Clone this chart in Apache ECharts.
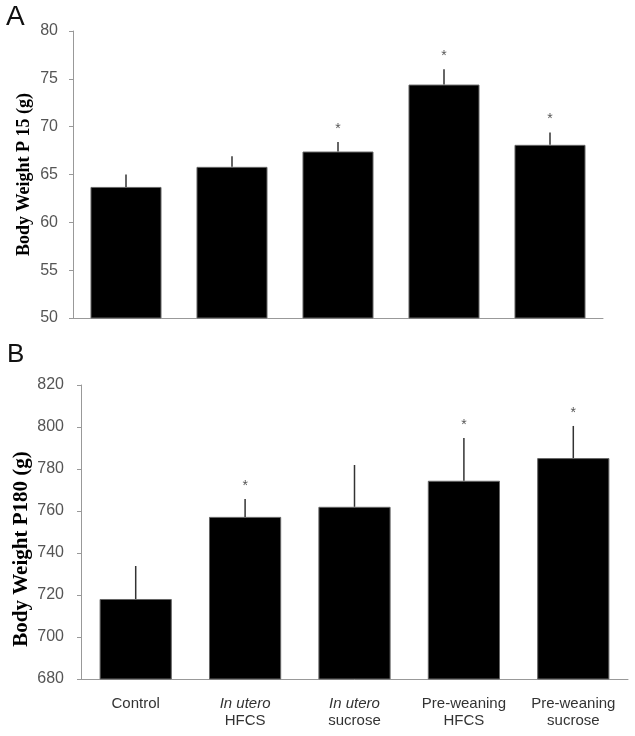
<!DOCTYPE html>
<html>
<head>
<meta charset="utf-8">
<script src="https://cdn.jsdelivr.net/npm/echarts@6/dist/echarts.min.js"></script>
<style>html,body{margin:0;padding:0;background:#fff;}#c{width:635px;height:736px;}</style>
</head>
<body>
<div id="c"></div>
<script>
var categories = ['Control', 'In utero\nHFCS', 'In utero\nsucrose', 'Pre-weaning\nHFCS', 'Pre-weaning\nsucrose'];
var p15Mean = [63.7, 65.8, 67.4, 74.4, 68.1];
var p15ErrTop = [65.0, 66.9, 68.4, 76.0, 69.4];
var p15Sig = [0, 0, 1, 1, 1];
var p180Mean = [718.1, 757.2, 762.0, 774.4, 785.2];
var p180ErrTop = [733.8, 765.7, 781.9, 794.8, 800.5];
var p180Sig = [0, 1, 0, 1, 1];
var p15Ticks = [50, 80, 5];
var p180Ticks = [680, 820, 20];

var chart = echarts.init(document.getElementById('c'), null, {renderer: 'canvas'});

function errData(mean, top, sig) {
  return mean.map(function (m, i) { return [i, m, top[i], sig[i]]; });
}
function renderErr(params, api) {
  var i = api.value(0);
  var p0 = api.coord([i, api.value(1)]);
  var p1 = api.coord([i, api.value(2)]);
  var children = [{
    type: 'line',
    shape: {x1: p0[0], y1: p0[1], x2: p1[0], y2: p1[1]},
    style: {stroke: '#333', lineWidth: 1.5}
  }];
  if (api.value(3)) {
    children.push({
      type: 'text',
      style: {x: p1[0], y: p1[1] - 13, text: '*', align: 'center', verticalAlign: 'middle',
        font: '14px "Liberation Sans", Arial', fill: '#555'}
    });
  }
  return {type: 'group', children: children};
}
function xLabel(v) {
  var parts = v.split('\n');
  if (parts.length === 1) return '{n|' + v + '}';
  if (parts[0] === 'In utero') return '{i|' + parts[0] + '}\n{n|' + parts[1] + '}';
  return '{n|' + parts[0] + '}\n{n|' + parts[1] + '}';
}
var axisLineStyle = {color: '#999', width: 1};

chart.setOption({
  animation: false,
  backgroundColor: '#fff',
  graphic: [
    {type: 'text', left: 6, top: 3, style: {text: 'A', font: '28px "Liberation Sans", Arial', fill: '#111'}},
    {type: 'text', left: 7, top: 342, style: {text: 'B', font: '26px "Liberation Sans", Arial', fill: '#111'}}
  ],
  grid: [
    {left: 73, top: 31, width: 530, height: 287},
    {left: 81, top: 385, width: 547, height: 294}
  ],
  xAxis: [
    {type: 'category', gridIndex: 0, data: categories,
     axisLine: {lineStyle: axisLineStyle}, axisTick: {length: 4, lineStyle: axisLineStyle},
     axisLabel: {show: false}},
    {type: 'category', gridIndex: 1, data: categories,
     axisLine: {lineStyle: axisLineStyle}, axisTick: {length: 4, lineStyle: axisLineStyle},
     axisLabel: {interval: 0, margin: 16, formatter: xLabel, rich: {
       n: {fontSize: 15, fontFamily: '"Liberation Sans", Arial', color: '#333', lineHeight: 17},
       i: {fontSize: 15, fontFamily: '"Liberation Sans", Arial', fontStyle: 'italic', color: '#333', lineHeight: 17}
     }}}
  ],
  yAxis: [
    {type: 'value', gridIndex: 0, min: p15Ticks[0], max: p15Ticks[1], interval: p15Ticks[2],
     name: 'Body Weight P 15 (g)', nameLocation: 'middle', nameGap: 40, nameMoveOverlap: false,
     nameTextStyle: {fontFamily: '"Liberation Serif", "Times New Roman", serif', fontWeight: 'bold', fontSize: 18, color: '#000'},
     axisLine: {show: true, lineStyle: axisLineStyle}, axisTick: {show: true, length: 4, lineStyle: axisLineStyle},
     splitLine: {show: false},
     axisLabel: {margin: 15, color: '#555', fontSize: 16, fontFamily: '"Liberation Sans", Arial'}},
    {type: 'value', gridIndex: 1, min: p180Ticks[0], max: p180Ticks[1], interval: p180Ticks[2],
     name: 'Body Weight P180 (g)', nameLocation: 'middle', nameGap: 49, nameMoveOverlap: false,
     nameTextStyle: {fontFamily: '"Liberation Serif", "Times New Roman", serif', fontWeight: 'bold', fontSize: 21, color: '#000',
       padding: [0, 34, 0, 0]},
     axisLine: {show: true, lineStyle: axisLineStyle}, axisTick: {show: true, length: 4, lineStyle: axisLineStyle},
     splitLine: {show: false},
     axisLabel: {margin: 17, color: '#555', fontSize: 16, fontFamily: '"Liberation Sans", Arial'}}
  ],
  series: [
    {type: 'bar', xAxisIndex: 0, yAxisIndex: 0, data: p15Mean, barCategoryGap: '33%',
     itemStyle: {color: '#000', borderColor: '#666', borderWidth: 1}, z: 2},
    {type: 'custom', xAxisIndex: 0, yAxisIndex: 0, data: errData(p15Mean, p15ErrTop, p15Sig),
     renderItem: renderErr, encode: {x: 0, y: [1, 2]}, z: 3},
    {type: 'bar', xAxisIndex: 1, yAxisIndex: 1, data: p180Mean, barCategoryGap: '34%',
     itemStyle: {color: '#000', borderColor: '#666', borderWidth: 1}, z: 2},
    {type: 'custom', xAxisIndex: 1, yAxisIndex: 1, data: errData(p180Mean, p180ErrTop, p180Sig),
     renderItem: renderErr, encode: {x: 0, y: [1, 2]}, z: 3}
  ]
});
</script>
</body>
</html>
